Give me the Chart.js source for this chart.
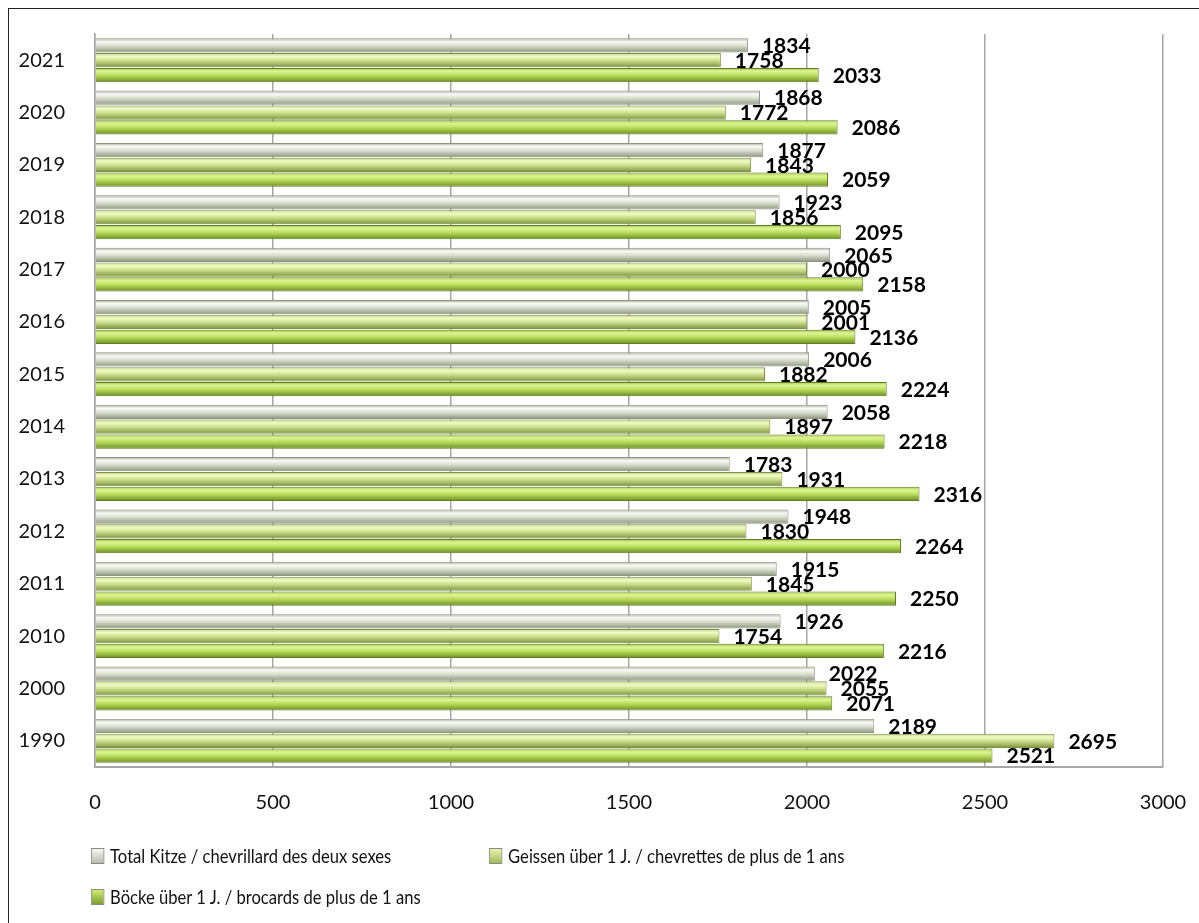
<!DOCTYPE html>
<html lang="de">
  <head>
    <meta charset="utf-8" />
    <script src="https://cdn.jsdelivr.net/npm/chart.js"></script>
    <style>
      body { margin: 0; background: #fff; font-family: Lato, 'Open Sans', sans-serif; }
      #wrap { position: relative; width: 1199px; height: 923px; overflow: hidden; }
      #frame { position: absolute; left: 8px; top: 8px; width: 1300px; height: 1000px; border-left: 1.5px solid #222; border-top: 1.5px solid #222; }
      #wrap canvas { position: absolute; left: 0; top: 0; }
      .leg { position: absolute; font-size: 20px; color: #111; white-space: nowrap; line-height: 24px; transform: scaleX(0.83); transform-origin: left center; }
      .leg i { display: inline-block; width: 14px; height: 14px; margin-right: 7px; vertical-align: -1px; border: 1px solid #8a8a80; }
    </style>
  </head>
  <body>
    <div id="wrap">
      <div id="frame"></div>
      <canvas id="chart" width="1199" height="923"></canvas>
      <div class="leg" style="left: 91px; top: 843px"><i style="background: linear-gradient(#f6f6f0, #b8bcae)"></i>Total Kitze / chevrillard des deux sexes</div>
      <div class="leg" style="left: 489px; top: 843px"><i style="background: linear-gradient(#e8f4b0, #a4bc58)"></i>Geissen über 1 J. / chevrettes de plus de 1 ans</div>
      <div class="leg" style="left: 91px; top: 884px"><i style="background: linear-gradient(#d0ec70, #7fa032)"></i>Böcke über 1 J. / brocards de plus de 1 ans</div>
    </div>
    <script type="text/javascript">
      const years = ['2021', '2020', '2019', '2018', '2017', '2016', '2015', '2014', '2013', '2012', '2011', '2010', '2000', '1990'];
      const kitze = [1834, 1868, 1877, 1923, 2065, 2005, 2006, 2058, 1783, 1948, 1915, 1926, 2022, 2189];
      const geissen = [1758, 1772, 1843, 1856, 2000, 2001, 1882, 1897, 1931, 1830, 1845, 1754, 2055, 2695];
      const boecke = [2033, 2086, 2059, 2095, 2158, 2136, 2224, 2218, 2316, 2264, 2250, 2216, 2071, 2521];
      const xTicks = [0, 500, 1000, 1500, 2000, 2500, 3000];

      // gradient stops per series: top edge, highlight, middle, bottom
      const shades = [
        ['#a9ae9e', '#fbfbf7', '#d8dccd', '#8c957c'],
        ['#c4d28e', '#f2fbc4', '#c9dc88', '#7b903e'],
        ['#a8c850', '#def594', '#b6da58', '#6a8c26'],
      ];

      // put a vertical "cylinder" gradient on each bar once its position is known
      // (backgroundColor is scriptable below so every bar gets its own options object)
      const barShade = {
        id: 'barShade',
        beforeDatasetsDraw(chart) {
          const ctx = chart.ctx;
          chart.data.datasets.forEach((ds, i) => {
            const s = shades[i];
            chart.getDatasetMeta(i).data.forEach((bar) => {
              const top = bar.y - bar.height / 2;
              const g = ctx.createLinearGradient(0, top, 0, top + bar.height);
              g.addColorStop(0, s[0]);
              g.addColorStop(0.25, s[1]);
              g.addColorStop(0.55, s[2]);
              g.addColorStop(1, s[3]);
              bar.options.backgroundColor = g;
            });
          });
        },
      };

      const valueLabels = {
        id: 'valueLabels',
        afterDatasetsDraw(chart) {
          const ctx = chart.ctx;
          ctx.save();
          ctx.font = 'bold 21px Lato, sans-serif';
          ctx.fillStyle = '#000';
          ctx.textBaseline = 'middle';
          chart.data.datasets.forEach((ds, i) => {
            chart.getDatasetMeta(i).data.forEach((bar, j) => {
              ctx.fillText(ds.data[j], bar.x + 14, bar.y + 1);
            });
          });
          ctx.restore();
        },
      };

      new Chart(document.getElementById('chart'), {
        type: 'bar',
        plugins: [barShade, valueLabels],
        data: {
          labels: years,
          datasets: [
            { label: 'Total Kitze / chevrillard des deux sexes', data: kitze, borderColor: '#8d947f', backgroundColor: () => shades[0][2] },
            { label: 'Geissen über 1 J. / chevrettes de plus de 1 ans', data: geissen, borderColor: '#7e9144', backgroundColor: () => shades[1][2] },
            { label: 'Böcke über 1 J. / brocards de plus de 1 ans', data: boecke, borderColor: '#5f7d22', backgroundColor: () => shades[2][2] },
          ],
        },
        options: {
          indexAxis: 'y',
          responsive: false,
          animation: false,
          events: [],
          datasets: {
            bar: { categoryPercentage: 0.85, barPercentage: 0.96, borderWidth: 1 },
          },
          layout: { padding: { left: 10, top: 32, right: 36, bottom: 106 } },
          plugins: { legend: { display: false }, tooltip: { enabled: false } },
          scales: {
            x: {
              min: 0,
              max: 3000,
              afterBuildTicks: (scale) => { scale.ticks = xTicks.map((v) => ({ value: v })); },
              afterFit: (scale) => { scale.height = 50; scale.paddingRight = 0; scale.paddingLeft = 0; },
              grid: { color: '#a6a6a6', lineWidth: 1.5, drawTicks: false },
              border: { display: true, color: '#a6a6a6', width: 2 },
              ticks: { padding: 24, color: '#111', font: { family: 'Lato', size: 20 }, callback: (v) => String(v) },
            },
            y: {
              afterFit: (scale) => { scale.width = 85; },
              grid: { display: false },
              border: { display: true, color: '#a6a6a6', width: 1.5 },
              ticks: { padding: 22, color: '#111', font: { family: 'Lato', size: 20 } },
            },
          },
        },
      });
    </script>
  </body>
</html>
